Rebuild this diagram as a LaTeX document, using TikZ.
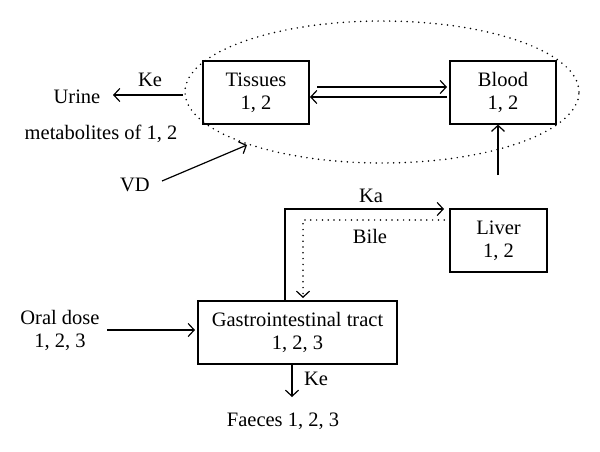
\documentclass[tikz,border=0pt]{standalone}
\usepackage{fontspec}
\setmainfont{Liberation Serif}
\usetikzlibrary{arrows.meta,shapes.geometric}
\begin{document}
\begin{tikzpicture}[x=1pt,y=-1pt,
  txt/.style={font=\fontsize{20.5}{23}\selectfont},
  box/.style={txt, draw, line width=1.2pt, minimum height=63pt, align=center, inner sep=0pt},
  lbl/.style={txt, align=center, inner sep=0pt},
  tip/.style={-{Straight Barb[length=6pt,width=13pt,line width=1.2pt]}},
  arr/.style={line width=1.2pt, tip},
  dots/.style={line width=1.7pt, line cap=round, dash pattern=on 0pt off 5.8pt},
]
\useasboundingbox (0,0) rectangle (600,452);

% compartment boundary
\node[dots, draw, ellipse, minimum width=394pt, minimum height=142pt, inner sep=0pt] (pool) at (382,92) {};

% boxes
\node[box, minimum width=106pt] (tis) at (256,92.5) {Tissues\\1, 2};
\node[box, minimum width=106pt] (blood) at (503,92.5) {Blood\\1, 2};
\node[box, minimum width=97pt] (liver) at (498.5,240.5) {Liver\\1, 2};
\node[box, minimum width=199pt] (gi) at (297.5,332.5) {Gastrointestinal tract\\1, 2, 3};

% labels
\node[lbl] (urine) at (77,97) {Urine};
\node[lbl] (ke1) at (150,80) {Ke};
\node[lbl] (meta) at (101,134) {metabolites of 1, 2};
\node[lbl] (vd) at (135,185) {VD};
\node[lbl] (ka) at (371,196) {Ka};
\node[lbl] (bile) at (370,236) {Bile};
\node[lbl] (oral) at (60,330.5) {Oral dose\\1, 2, 3};
\node[lbl] (ke2) at (316,379) {Ke};
\node[lbl] (faeces) at (283,421) {Faeces 1, 2, 3};

% helper coordinates
\coordinate (uS) at (183,95);
\coordinate (uE) at (113,95);
\coordinate (vdS) at (162,181);
\coordinate (vdE) at (247,145);
\coordinate (tbS) at (317,87);
\coordinate (tbE) at (447,87);
\coordinate (btS) at (447,97);
\coordinate (btE) at (310,97);
\coordinate (lb) at (498,175);
\coordinate (kaC) at (285,209);
\coordinate (kaE) at (444,209);
\coordinate (biS) at (450,220);
\coordinate (biC) at (303,220);
\coordinate (biE) at (303,298);
\coordinate (orS) at (107,330);
\coordinate (orE) at (195,330);
\coordinate (feE) at (292,397);

% connectors
\draw[arr] (uS) -- (uE);
\draw[arr] (vdS) -- (vdE);
\draw[arr] (tbS) -- (tbE);
\draw[arr] (btS) -- (btE);
\draw[arr] (lb) -- (lb |- blood.south);
\draw[arr] (kaC |- gi.north) -- (kaC) -- (kaE);
\draw[dots, tip] (biS) -- (biC) -- (biE);
\draw[arr] (orS) -- (orE);
\draw[arr] (feE |- gi.south) -- (feE);
\end{tikzpicture}
\end{document}
